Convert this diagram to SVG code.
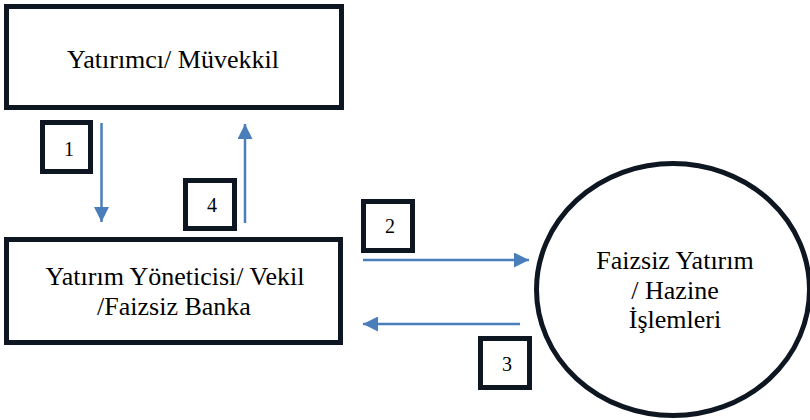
<svg xmlns="http://www.w3.org/2000/svg" width="810" height="420" viewBox="0 0 810 420">
<style>
.box{fill:#fff;stroke:#0e1621;stroke-width:5}
text{font-family:'Times New Roman',Times,Tinos,'Liberation Serif','DejaVu Serif',FreeSerif,serif;fill:#000;text-anchor:middle}
.t{font-size:26px}
.n{font-size:20px}
.c{stroke:#4a7ebb;stroke-width:2.5;fill:none}
</style>
<defs>
<marker id="ah" markerWidth="15" markerHeight="15" refX="15" refY="7.5" orient="auto" markerUnits="userSpaceOnUse" viewBox="0 0 15 15">
<path d="M0,0 L15,7.5 L0,15 Z" fill="#4a7ebb"/>
</marker>
</defs>
<rect width="810" height="420" fill="#fff"/>
<g id="yatirimci">
<rect class="box" x="6.5" y="6.5" width="335" height="101"/>
<text class="t" x="173" y="68">Yatırımcı/ Müvekkil</text>
</g>
<g id="yonetici">
<rect class="box" x="6.5" y="239.5" width="334" height="103"/>
<text class="t" x="175" y="285">Yatırım Yöneticisi/ Vekil</text>
<text class="t" x="174" y="315">/Faizsiz Banka</text>
</g>
<g id="faizsiz">
<ellipse class="box" cx="673" cy="289.5" rx="136.5" ry="126"/>
<text class="t" x="675" y="269">Faizsiz Yatırım</text>
<text class="t" x="675" y="299">/ Hazine</text>
<text class="t" x="675" y="328">İşlemleri</text>
</g>
<g id="label1"><rect class="box" x="42.5" y="122.5" width="48" height="49"/><text class="n" x="69" y="156">1</text></g>
<g id="label4"><rect class="box" x="185.5" y="180.5" width="49" height="48"/><text class="n" x="212" y="212">4</text></g>
<g id="label2"><rect class="box" x="363.5" y="201.5" width="49" height="49"/><text class="n" x="390" y="233">2</text></g>
<g id="label3"><rect class="box" x="480.5" y="338.5" width="49" height="49"/><text class="n" x="507" y="371">3</text></g>
<g id="connectors">
<line class="c" x1="101.5" y1="123" x2="101.5" y2="222" marker-end="url(#ah)"/>
<line class="c" x1="245" y1="223" x2="245" y2="124" marker-end="url(#ah)"/>
<line class="c" x1="363" y1="260" x2="529" y2="260" marker-end="url(#ah)"/>
<line class="c" x1="520" y1="324" x2="363" y2="324" marker-end="url(#ah)"/>
</g>
</svg>
